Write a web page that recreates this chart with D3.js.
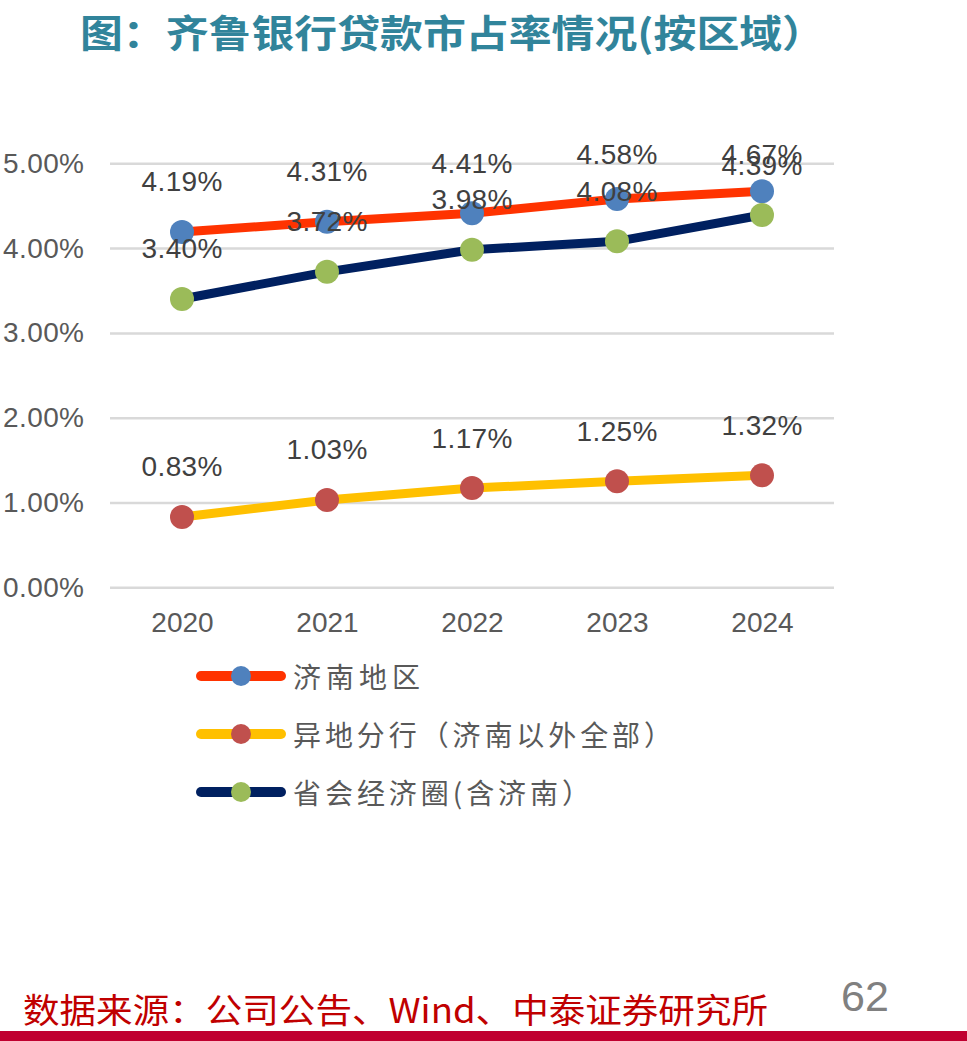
<!DOCTYPE html>
<html><head><meta charset="utf-8">
<script src="https://cdn.jsdelivr.net/npm/d3@7"></script>
<style>
html,body{margin:0;padding:0;background:#fff;}
svg{display:block;}
</style></head>
<body>
<svg id="chart" width="967" height="1041"></svg>
<script>
const years = ["2020","2021","2022","2023","2024"];
const jinan = [4.19, 4.31, 4.41, 4.58, 4.67];
const remote = [0.83, 1.03, 1.17, 1.25, 1.32];
const circle = [3.40, 3.72, 3.98, 4.08, 4.39];
const seriesNames = ["济南地区", "异地分行（济南以外全部）", "省会经济圈(含济南）"];
const yTicks = [0, 1, 2, 3, 4, 5];
const titleText = "图：齐鲁银行贷款市占率情况(按区域）";
const sourceText = "数据来源：公司公告、Wind、中泰证券研究所";
const pageNo = "62";

const series = [
  {name: seriesNames[0], values: jinan, line: "#FF3300", marker: "#4F81BD"},
  {name: seriesNames[1], values: remote, line: "#FFC000", marker: "#C0504D"},
  {name: seriesNames[2], values: circle, line: "#002060", marker: "#9BBB59"}
];

const svg = d3.select("#chart");
const numFont = "'Liberation Sans', Arial, sans-serif";
const cjkFont = "'Noto Sans CJK SC', sans-serif";

// Title
svg.append("text")
  .attr("x", 80).attr("y", 30)
  .attr("dominant-baseline", "central")
  .attr("textLength", 745).attr("lengthAdjust", "spacingAndGlyphs")
  .style("font-family", cjkFont).style("font-weight", 700)
  .style("font-size", "38px").style("fill", "#31849B")
  .text(titleText);

const x = d3.scalePoint().domain(years).range([182, 762]);
const y = d3.scaleLinear().domain([0, 5]).range([587.3, 163.3]);
const left = 110, right = 834;
const labelTop = 154;

// Y axis with gridlines
const yAxis = svg.append("g")
  .attr("transform", `translate(${left},0)`)
  .call(d3.axisLeft(y).tickValues(yTicks).tickSize(-(right - left)).tickPadding(26)
    .tickFormat(d => d3.format(".2f")(d) + "%"));
yAxis.select(".domain").remove();
yAxis.selectAll(".tick line").attr("stroke", "#D9D9D9").attr("stroke-width", 2.5);
yAxis.selectAll(".tick text")
  .attr("textLength", 81).attr("lengthAdjust", "spacing")
  .style("font-family", numFont).style("font-size", "28px").style("fill", "#595959");

// X axis
const xAxis = svg.append("g")
  .attr("transform", `translate(0,${y(0)})`)
  .call(d3.axisBottom(x).tickSize(0).tickPadding(25));
xAxis.select(".domain").remove();
xAxis.selectAll(".tick text")
  .style("font-family", numFont).style("font-size", "28px").style("fill", "#595959");

const line = d3.line().x((d, i) => x(years[i])).y(d => y(d));

// Lines
series.forEach(s => {
  svg.append("path")
    .datum(s.values)
    .attr("d", line)
    .attr("fill", "none")
    .attr("stroke", s.line)
    .attr("stroke-width", 9)
    .attr("stroke-linejoin", "round");
  svg.append("g").selectAll("circle")
    .data(s.values).join("circle")
    .attr("cx", (d, i) => x(years[i]))
    .attr("cy", d => y(d))
    .attr("r", 12)
    .attr("fill", s.marker);
});

// Data labels
series.forEach(s => {
  svg.append("g").selectAll("text")
    .data(s.values).join("text")
    .attr("x", (d, i) => x(years[i]))
    .attr("y", d => Math.max(y(d) - 50, labelTop))
    .attr("text-anchor", "middle")
    .attr("dominant-baseline", "central")
    .attr("textLength", 81).attr("lengthAdjust", "spacing")
    .style("font-family", numFont).style("font-size", "28px").style("fill", "#404040")
    .text(d => d3.format(".2f")(d) + "%");
});

// Legend
const legendY = [676, 734, 792];
const legendLen = [127, 379, 297];
series.forEach((s, i) => {
  const g = svg.append("g").attr("transform", `translate(0,${legendY[i]})`);
  g.append("line").attr("x1", 201).attr("x2", 281).attr("y1", 0).attr("y2", 0)
    .attr("stroke", s.line).attr("stroke-width", 10).attr("stroke-linecap", "round");
  g.append("circle").attr("cx", 241).attr("cy", 0).attr("r", 10).attr("fill", s.marker);
  g.append("text").attr("x", 293).attr("y", 0)
    .attr("dominant-baseline", "central")
    .attr("textLength", legendLen[i]).attr("lengthAdjust", "spacing")
    .style("font-family", cjkFont).style("font-size", "28px").style("fill", "#595959")
    .text(s.name);
});

// Source
svg.append("text")
  .attr("x", 23).attr("y", 1008)
  .attr("dominant-baseline", "central")
  .attr("textLength", 745).attr("lengthAdjust", "spacingAndGlyphs")
  .style("font-family", cjkFont).style("font-size", "34px").style("fill", "#C00000")
  .text(sourceText);

svg.append("text")
  .attr("x", 865).attr("y", 996)
  .attr("text-anchor", "middle")
  .attr("dominant-baseline", "central")
  .style("font-family", numFont).style("font-size", "43px").style("fill", "#808080")
  .text(pageNo);

svg.append("rect").attr("x", 0).attr("y", 1031).attr("width", 967).attr("height", 10)
  .attr("fill", "#C00030");
</script>
</body></html>
